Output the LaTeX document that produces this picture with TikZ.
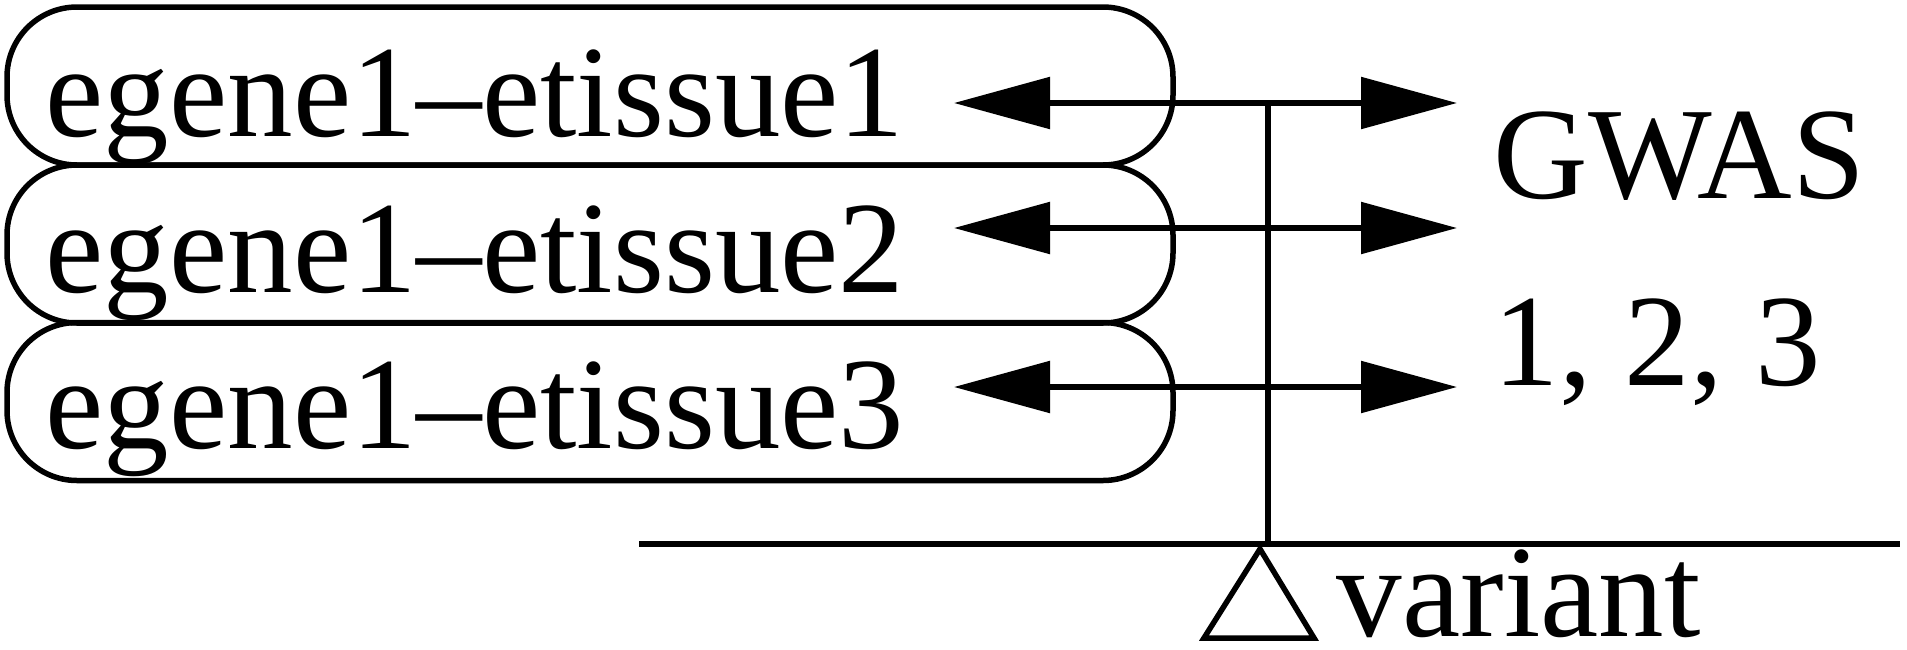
\documentclass[tikz,border=0pt]{standalone}
\usepackage{fontspec}
\setmainfont{Liberation Serif}
\usetikzlibrary{arrows.meta}
\begin{document}
\begin{tikzpicture}[x=1pt,y=-1pt,
  line width=5.5pt,
  box/.style={draw, rectangle, rounded corners=70pt, minimum width=1166pt, minimum height=158pt, inner sep=0pt},
  lbl/.style={inner sep=0pt, font=\fontsize{131}{157}\selectfont},
  dbl/.style={{Triangle[length=96pt,width=51pt]}-{Triangle[length=96pt,width=51pt]}}]
\useasboundingbox (0,0) rectangle (1907,649);
% boxes
\node[box] (b1) at (590,86) {};
\node[box] (b2) at (590,244) {};
\node[box] (b3) at (590,401.5) {};
% texts
\node[lbl, anchor=base west] (t1) at (43,136) {egene1–etissue1};
\node[lbl, anchor=base west] (t2) at (43,292) {egene1–etissue2};
\node[lbl, anchor=base west] (t3) at (43,448) {egene1–etissue3};
\node[lbl, anchor=base west] (gwas) at (1491,198) {GWAS};
\node[lbl, anchor=base west] (nums) at (1491,385) {1, 2, 3};
\node[lbl, anchor=base west] (var) at (1334,636) {variant};
% arrow ends
\coordinate (l1) at (954,103); \coordinate (r1) at (1457,103);
\coordinate (l2) at (954,228); \coordinate (r2) at (1457,228);
\coordinate (l3) at (954,387); \coordinate (r3) at (1457,387);
\draw[dbl] (l1) -- (r1);
\draw[dbl] (l2) -- (r2);
\draw[dbl] (l3) -- (r3);
% vertical and horizontal lines
\coordinate (vt) at (1268,103);
\coordinate (vb) at (1268,544);
\coordinate (hl) at (639,544);
\coordinate (hr) at (1900,544);
\draw (vt) -- (vb);
\draw (hl) -- (hr);
% triangle
\coordinate (ta) at (1260,549);
\coordinate (tl) at (1204,638);
\coordinate (tr) at (1314,638);
\draw[line join=miter] (ta) -- (tl) -- (tr) -- cycle;
\end{tikzpicture}
\end{document}
